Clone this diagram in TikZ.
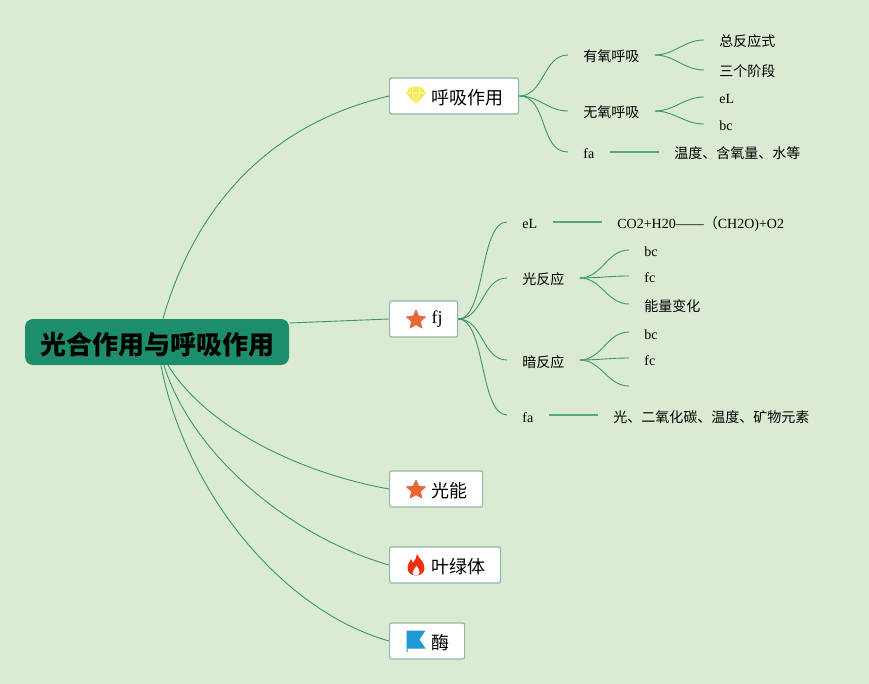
\documentclass[tikz,border=0pt]{standalone}
\usepackage{fontspec}
\setmainfont{Liberation Serif}
\newfontfamily\cjk{Noto Sans CJK SC}
\definecolor{bgcolor}{RGB}{219,234,211}
\definecolor{rootcolor}{RGB}{28,142,108}
\definecolor{linecolor}{RGB}{58,150,112}
\definecolor{boxcolor}{RGB}{143,184,168}
\definecolor{gemcolor}{RGB}{247,236,85}
\definecolor{starcolor}{RGB}{232,102,58}
\definecolor{flamecolor}{RGB}{238,46,16}
\definecolor{flagcolor}{RGB}{27,154,214}
\tikzset{every picture/.style={line width=0.75pt}}
\tikzset{
  icon/.style={yscale=-1},
  rootbox/.style={fill=rootcolor,draw=none,rounded corners=8pt,minimum width=264pt,minimum height=46pt,inner sep=0pt,text height=24pt,text depth=0pt,font=\fontsize{26}{26}\selectfont\cjk\bfseries},
  topicbox/.style={fill=white,draw=boxcolor,line width=1.2pt,rounded corners=2pt,anchor=west,minimum height=36pt,inner xsep=0pt,inner ysep=0pt,font=\fontsize{18}{18}\selectfont},
  cjktopic/.style={topicbox,text height=17pt,text depth=0pt},
  leaf/.style={anchor=west,inner xsep=15pt,inner ysep=0pt,text height=14pt,text depth=0pt,font=\fontsize{14}{14}\selectfont},
  link/.style={draw=linecolor,line width=0.9pt},
  straight/.style={draw=linecolor!85!white,line width=1.2pt},
  branch/.style={link,out=0,in=180},
  gem/.pic={
    \fill[icon,gemcolor,draw=gemcolor,line join=round,line width=0.6pt] (-5.5,-8.5) -- (5.5,-8.5) -- (9.5,-3) -- (0,8.5) -- (-9.5,-3) -- cycle;
    \draw[icon,white!70!gemcolor,line width=0.7pt] (-9.5,-3) -- (9.5,-3) (-3,-8.5) -- (-4,-3) -- (0,8.5) -- (4,-3) -- (3,-8.5);
  },
  star/.pic={
    \fill[icon,starcolor,draw=starcolor,line join=round,line width=0.8pt] (-90:10) -- (-54:4.6) -- (-18:10) -- (18:4.6) -- (54:10) -- (90:4.6) -- (126:10) -- (162:4.6) -- (198:10) -- (234:4.6) -- cycle;
  },
  flame/.pic={
    \fill[icon,flamecolor] (1,-11) .. controls (3,-6) and (9,-3) .. (8.5,3.5) .. controls (8,8) and (4.5,10.5) .. (0,10.5) .. controls (-5,10.5) and (-8.5,7.5) .. (-8.5,3) .. controls (-8.5,-1) and (-6,-3) .. (-5,-6) .. controls (-4,-4.5) and (-3.5,-3.5) .. (-3,-2) .. controls (-1,-5) and (1,-7.5) .. (1,-11) -- cycle;
    \fill[icon,white] (0.5,1) .. controls (2,3.5) and (4,5) .. (3.5,7.5) .. controls (3,9.5) and (1.5,10.5) .. (0,10.5) .. controls (-1.5,10.5) and (-3.5,9.5) .. (-3.5,7.5) .. controls (-3.5,5.5) and (-1,4) .. (0.5,1) -- cycle;
  },
  flag/.pic={
    \fill[icon,flagcolor] (-9.5,-10.5) -- (9.5,-10.5) -- (3.5,-1.5) -- (9.5,7.5) -- (-8.5,7.5) -- (-8.5,11) -- (-9.5,11) -- cycle;
  },
}
\newcommand{\topictext}[1]{\hspace*{42pt}#1\hspace*{15pt}}

\begin{document}
\begin{tikzpicture}[x=1pt,y=1pt,yscale=-1,xscale=1]
    \useasboundingbox (0,0) rectangle (869,684);
    \fill[bgcolor] (0,0) rectangle (869,684);

    % root and topics
    \node[rootbox] (root) at (157,342) {光合作用与呼吸作用};
    \node[cjktopic] (huxi) at (389,96) {\topictext{\cjk 呼吸作用}};
    \node[topicbox] (fj) at (389,319) {\topictext{fj}};
    \node[cjktopic] (guangneng) at (389,489) {\topictext{\cjk 光能}};
    \node[cjktopic] (yelv) at (389,565) {\topictext{\cjk 叶绿体}};
    \node[cjktopic] (mei) at (389,641) {\topictext{\cjk 酶}};

    % icons
    \pic at (416,96) {gem};
    \pic at (416,320) {star};
    \pic at (416,490) {star};
    \pic at (416,565) {flame};
    \pic at (416,641) {flag};

    % first branch
    \node[leaf] (youyang) at (568,55) {\cjk 有氧呼吸};
    \node[leaf] (wuyang) at (568,111) {\cjk 无氧呼吸};
    \node[leaf] (hufa) at (568,152) {fa};
    \node[leaf] (zong) at (704,40) {\cjk 总反应式};
    \node[leaf] (sange) at (704,70) {\cjk 三个阶段};
    \node[leaf] (wuel) at (704,97) {eL};
    \node[leaf] (wubc) at (704,124) {bc};
    \node[leaf] (wendu) at (659,152) {\cjk 温度、含氧量、水等};

    % second branch
    \node[leaf] (fjel) at (507,222) {eL};
    \node[leaf] (guangfan) at (507,278) {\cjk 光反应};
    \node[leaf] (anfan) at (507,360) {\cjk 暗反应};
    \node[leaf] (fjfa) at (507,415) {fa};
    \node[leaf] (eqn) at (602,222) {CO2+H20——{\cjk （}CH2O)+O2};
    \node[leaf] (gbc) at (629,250) {bc};
    \node[leaf] (gfc) at (629,276) {fc};
    \node[leaf] (nengliang) at (629,304) {\cjk 能量变化};
    \node[leaf] (abc) at (629,332) {bc};
    \node[leaf] (afc) at (629,358) {fc};
    \coordinate (aend) at (629,386);
    \node[leaf] (guang) at (598,415) {\cjk 光、二氧化碳、温度、矿物元素};

    % root connectors
    \draw[link] ([xshift=6pt]root.north) .. controls (187,235) and (245,130) .. (huxi.west);
    \draw[link] (root.east |- 0,323) -- (fj.west);
    \draw[link] ([xshift=11pt]root.south) .. controls (205,425) and (295,472) .. (guangneng.west);
    \draw[link] ([xshift=7pt]root.south) .. controls (190,450) and (285,535) .. (yelv.west);
    \draw[link] ([xshift=4pt]root.south) .. controls (185,490) and (280,610) .. (mei.west);

    % topic connectors
    \draw[branch] (huxi.east) to (youyang.west);
    \draw[branch] (huxi.east) to (wuyang.west);
    \draw[branch] (huxi.east) to (hufa.west);
    \draw[branch] (youyang.east) to (zong.west);
    \draw[branch] (youyang.east) to (sange.west);
    \draw[branch] (wuyang.east) to (wuel.west);
    \draw[branch] (wuyang.east) to (wubc.west);
    \draw[straight] (hufa.east) -- (wendu.west);

    \draw[branch,looseness=0.65] (fj.east) to (fjel.west);
    \draw[branch] (fj.east) to (guangfan.west);
    \draw[branch] (fj.east) to (anfan.west);
    \draw[branch,looseness=0.65] (fj.east) to (fjfa.west);
    \draw[straight] (fjel.east) -- (eqn.west);
    \draw[straight] (fjfa.east) -- (guang.west);
    \draw[branch] (guangfan.east) to (gbc.west);
    \draw[branch] (guangfan.east) to (gfc.west);
    \draw[branch] (guangfan.east) to (nengliang.west);
    \draw[branch] (anfan.east) to (abc.west);
    \draw[branch] (anfan.east) to (afc.west);
    \draw[branch] (anfan.east) to (aend);
\end{tikzpicture}
\end{document}
